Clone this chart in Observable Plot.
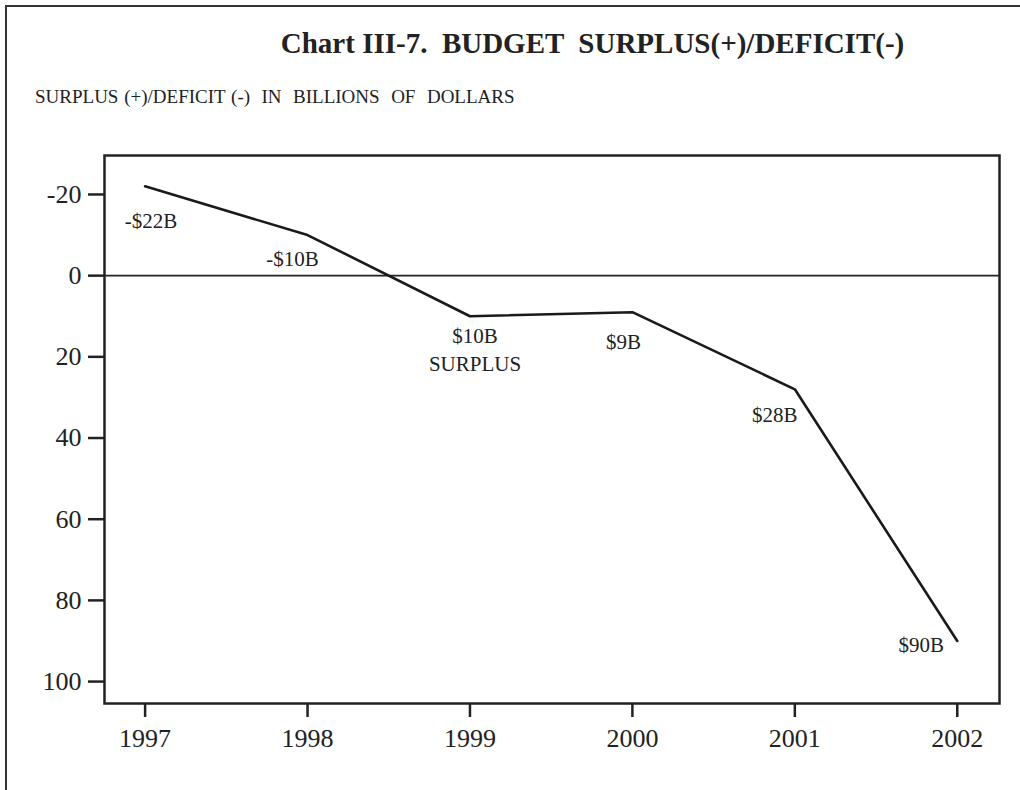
<!DOCTYPE html>
<html>
<head>
<meta charset="utf-8">
<script src="https://cdn.jsdelivr.net/npm/d3@7"></script>
<script src="https://cdn.jsdelivr.net/npm/@observablehq/plot@0.6"></script>
<style>
  html, body { margin: 0; padding: 0; background: #fff; }
  #page { position: relative; width: 1020px; height: 790px; overflow: hidden; font-family: "Liberation Serif", "DejaVu Serif", serif; color: #222; }
  #border { position: absolute; left: 5px; top: 5px; width: 1030px; height: 800px; border-left: 2px solid #333; border-top: 2px solid #333; box-sizing: border-box; }
  #title { position: absolute; left: 0; width: 1185px; top: 27px; text-align: center; font-weight: bold; font-size: 29px; white-space: pre; }
  #subtitle { position: absolute; left: 35px; top: 86px; font-size: 19px; word-spacing: 1px; white-space: pre; }
  #chart { position: absolute; left: 0; top: 0; }
</style>
</head>
<body>
<div id="page">
  <div id="chart"></div>
  <div id="border"></div>
  <div id="title">Chart III-7.  BUDGET  SURPLUS(+)/DEFICIT(-)</div>
  <div id="subtitle">SURPLUS (+)/DEFICIT (-)  IN  BILLIONS  OF  DOLLARS</div>
</div>
<script>
// Data
const years = [1997, 1998, 1999, 2000, 2001, 2002];
const values = [-22, -10, 10, 9, 28, 90];
const labels = ["-$22B", "-$10B", "$10B\nSURPLUS", "$9B", "$28B", "$90B"];
const yTicks = [-20, 0, 20, 40, 60, 80, 100];
const xTicks = [1997, 1998, 1999, 2000, 2001, 2002];

// label offsets relative to each point (style, not data)
const labelOffsets = [[6, 33], [-15, 22], [5, 32], [-9, 28], [-20, 24], [-36, 2]];

const data = years.map((year, i) => ({year, value: values[i], label: labels[i]}));

const labelMarks = data.map((d, i) => Plot.text([d], {
  x: "year", y: "value", text: "label",
  dx: labelOffsets[i][0], dy: labelOffsets[i][1],
  fontSize: 21, lineHeight: 1.3, fill: "#222",
  fontFamily: "Liberation Serif"
}));

const chart = Plot.plot({
  width: 1020,
  height: 790,
  marginTop: 155,
  marginBottom: 87,
  marginLeft: 104,
  marginRight: 21,
  style: {background: "transparent", fontFamily: "Liberation Serif", color: "#222"},
  x: {domain: [1996.75, 2002.26]},
  y: {domain: [-29.6, 105.4], reverse: true},
  marks: [
    Plot.ruleY([0], {stroke: "#222", strokeWidth: 1.6}),
    Plot.line(data, {x: "year", y: "value", stroke: "#1a1a1a", strokeWidth: 2.6, strokeLinejoin: "miter"}),
    ...labelMarks,
    Plot.axisY({ticks: yTicks, tickFormat: d => String(d), tickSize: 16, tickPadding: 7, strokeWidth: 2.5, fontSize: 26, label: null, stroke: "#222", fill: "#222"}),
    Plot.axisX({ticks: xTicks, tickFormat: d => String(d), tickSize: 14, tickPadding: 11, strokeWidth: 2.5, fontSize: 26, label: null, stroke: "#222", fill: "#222"}),
    Plot.frame({stroke: "#222", strokeWidth: 2.5})
  ]
});
document.getElementById("chart").appendChild(chart);
</script>
</body>
</html>
